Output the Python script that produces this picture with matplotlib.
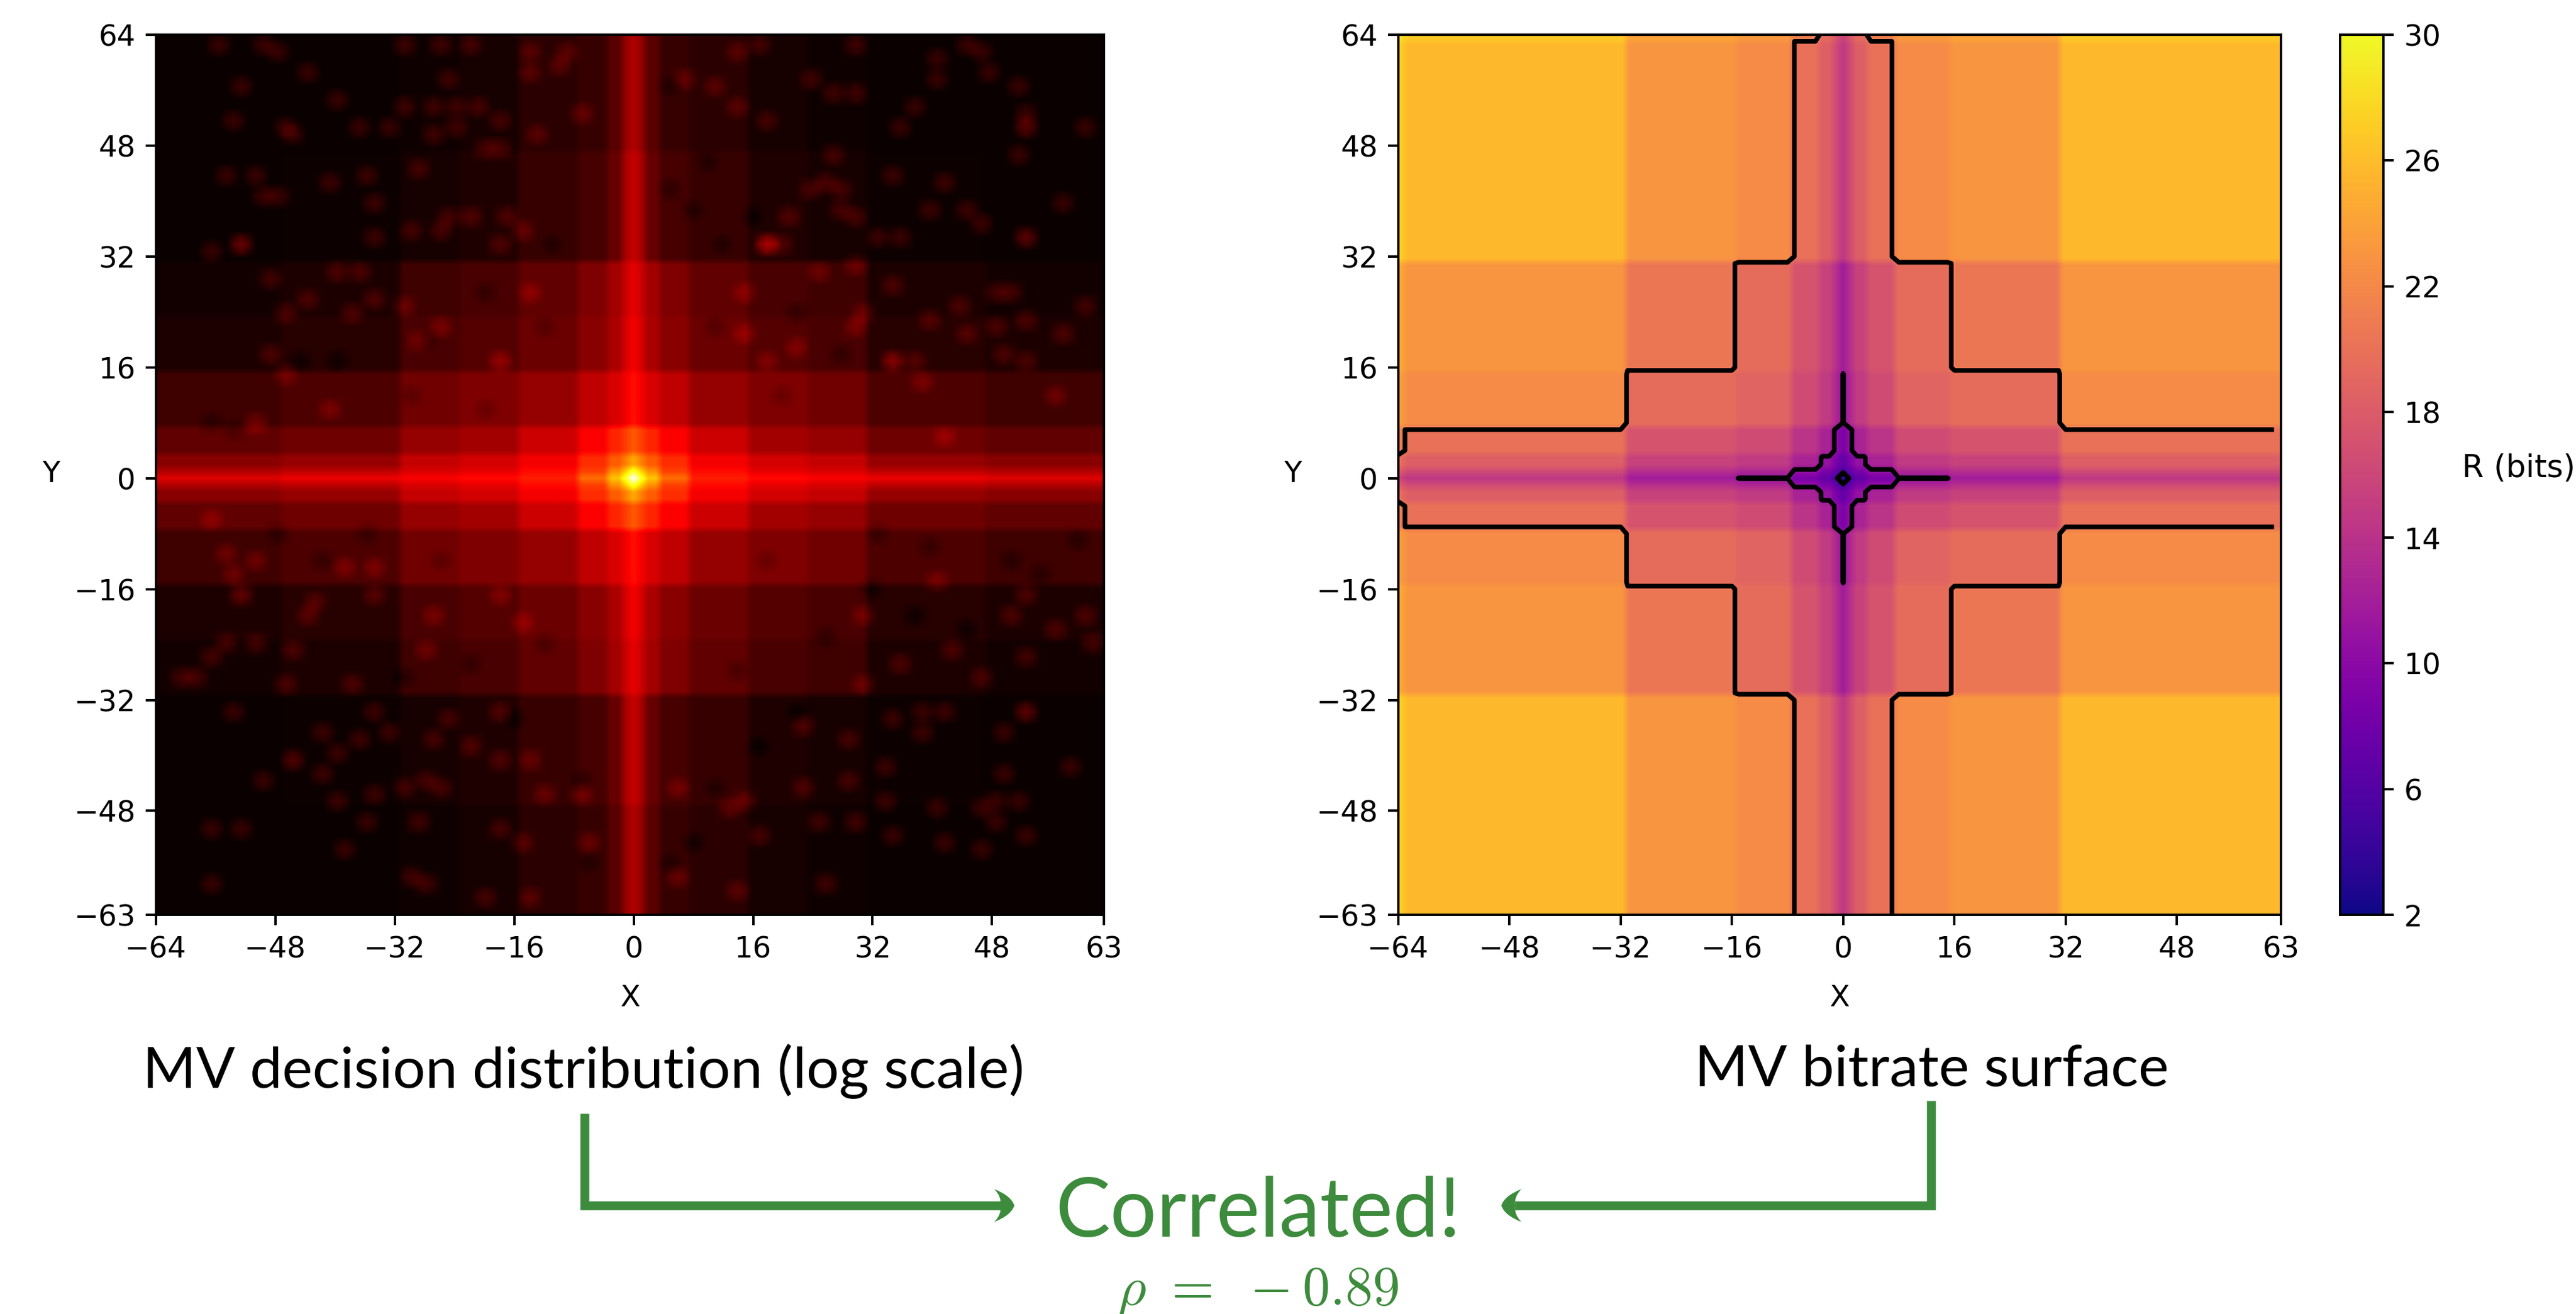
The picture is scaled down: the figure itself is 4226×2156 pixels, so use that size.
import numpy as np
import matplotlib
matplotlib.use("Agg")
import matplotlib.pyplot as plt
from matplotlib.lines import Line2D
from matplotlib.patches import PathPatch
from matplotlib.path import Path

W, H = 4226, 2156
GREEN = "#3d8b3d"

x_vals = np.arange(-64, 64)
y_vals = np.arange(64, -64, -1)
x_ticks = [-64, -48, -32, -16, 0, 16, 32, 48, 63]
y_ticks = [-63, -48, -32, -16, 0, 16, 32, 48, 64]
cbar_ticks = [2, 6, 10, 14, 18, 22, 26, 30]
contour_levels = [4.8, 11.1, 20.05]

# rate per |mv| band: 0, 1, 2-3, 4-7, 8-15, 16-31, 32-63, 64
rate_edges = [1, 2, 4, 8, 16, 32, 64]
rate_bits = [1.6, 3.5, 5.4, 7.1, 9.4, 10.2, 12.9, 14.0]

# log density per (|y| band, |x| band): 0, 1, 2-3, 4-7, 8-15, 16-23, 24-31, 32-47, 48-64
dist_edges = [1, 2, 4, 8, 16, 24, 32, 48]
dist_log = [
    [1.00, .80, .66, .53, .41, .38, .36, .34, .32],
    [.80, .68, .58, .46, .38, .33, .31, .27, .25],
    [.62, .56, .50, .43, .35, .30, .28, .21, .19],
    [.50, .46, .42, .36, .29, .23, .21, .15, .13],
    [.39, .35, .31, .27, .21, .175, .155, .10, .08],
    [.35, .31, .24, .19, .145, .11, .095, .045, .03],
    [.33, .29, .23, .175, .13, .095, .08, .03, .015],
    [.28, .24, .14, .09, .07, .035, .02, .005, 0],
    [.25, .21, .12, .07, .05, .02, .01, 0, 0],
]

# isolated bright spots
spots = [
    (-56, 63), (-50, 63), (-48, 62), (-31, 63), (-26, 63), (-22, 63), (-14, 62), (-9, 62), (-44, 59), (-25, 58),
    (-14, 59), (-10, 60), (-53, 57), (-40, 55), (-31, 54), (-27, 54), (-24, 54), (-21, 54), (-18, 52), (-13, 50),
    (-7, 53), (-54, 52), (-47, 51), (-46, 50), (-37, 51), (-33, 51), (-27, 50), (-24, 51), (-20, 48), (-18, 48),
    (-55, 44), (-51, 44), (-50, 41), (-48, 41), (-41, 43), (-36, 44), (-35, 40), (-29, 45), (-25, 38), (-22, 38),
    (-17, 38), (-15, 36), (-35, 35), (-30, 36), (-26, 36), (-18, 34), (-57, 33), (-40, 30), (-37, 30), (-49, 29),
    (-44, 26), (-47, 24), (-38, 24), (-35, 26), (-31, 25), (-49, 18), (-47, 15), (-41, 10), (-51, 8), (-14, 27),
    (-26, 22), (-29, 20),
    (14, 62), (17, 63), (30, 63), (45, 63), (47, 62), (41, 61), (41, 58), (48, 59), (52, 57), (24, 58),
    (27, 56), (30, 56), (11, 57), (7, 58), (38, 54), (18, 52), (14, 54), (36, 51), (61, 51), (53, 53),
    (27, 47), (52, 47), (35, 44), (42, 43), (24, 42), (26, 43), (28, 42), (58, 40), (28, 39), (21, 38),
    (30, 38), (45, 39), (40, 39), (47, 37), (20, 34), (36, 35), (33, 35), (30, 31), (25, 30), (15, 27),
    (49, 27), (51, 27), (61, 25), (44, 25), (35, 28), (40, 23), (31, 24), (30, 22), (15, 21), (45, 21),
    (49, 22), (53, 23), (58, 21), (53, 17), (50, 18), (38, 17), (18, 17), (22, 19), (39, 14), (57, 12), (42, 6),
    (-35, -17), (-57, -6), (-55, -11), (-51, -12), (-54, -14), (-39, -13), (-35, -13), (-43, -18), (-44, -20),
    (-51, -24), (-46, -25), (-55, -24), (-57, -26), (-61, -29), (-59, -29), (-47, -30), (-38, -30), (-54, -34),
    (-35, -34), (-18, -34), (-25, -35), (-27, -38), (-33, -37), (-37, -38), (-42, -37), (-40, -40), (-42, -43),
    (-50, -44), (-28, -44), (-31, -45), (-26, -45), (-40, -47), (-35, -46), (-22, -39), (-18, -41), (-14, -41),
    (-12, -46), (-7, -46), (-18, -51), (-15, -53), (-29, -50), (-36, -50), (-39, -54), (-57, -51), (-53, -51),
    (-57, -59), (-30, -58), (-28, -59), (-20, -61), (-14, -61), (-6, -53), (-15, -21), (-18, -17), (-27, -20), (-28, -25),
    (35, -35), (39, -34), (42, -34), (23, -36), (29, -38), (39, -37), (50, -37), (23, -45), (29, -44), (34, -42),
    (50, -43), (59, -42), (41, -48), (34, -47), (47, -48), (49, -47), (52, -47), (15, -47), (13, -48), (17, -52),
    (25, -50), (30, -50), (35, -52), (42, -53), (53, -52), (47, -54), (6, -45), (6, -58), (14, -60), (26, -59),
    (41, -15), (47, -29), (53, -17), (51, -20), (36, -27), (43, -25), (57, -22), (61, -20), (62, -24), (31, -20),
    (31, -30), (53, -26), (49, -50),
]
spot_strength = 0.07
strong_spots = [(18, 34), (35, 17), (53, 35), (53, 51), (-53, 34), (-18, 17), (53, -34), (-53, -17), (-46, -41)]
strong_strength = [0.2, 0.14, 0.12, 0.11, 0.14, 0.1, 0.12, 0.1, 0.1]
# dark holes in the mottled middle ring
dark_spots = [
    (-20, 27), (-28, 20), (-11, 34), (-40, 17), (-54, 7), (-57, 8), (-45, 17), (-30, 12), (-20, 10), (-12, 22),
    (32, -16), (45, -22), (51, -12), (33, -8), (11, -45), (8, -53), (5, -56), (17, -39), (40, -10), (55, -14),
    (5, 57), (16, 38), (8, 39), (5, 42), (10, 46), (12, 34), (22, 24), (28, 18), (11, 22), (20, 12),
    (-36, -8), (-48, -8), (-31, -29), (-6, -56), (-7, -44), (-16, -35), (-22, -27), (-12, -24), (-26, -12), (-42, -12),
    (22, -34), (14, -28), (26, -23), (18, -12), (60, -9), (38, -20),
]
dark_strength = -0.035
spot_shape = np.array([
    [.35, .7, .35],
    [.7, 1, .7],
    [.35, .7, .35],
])


def px(x, y):
    # reference pixels to figure fractions
    return x / W, 1 - y / H


def add_spot(grid, x, y, strength):
    row, col = 64 - y, x + 64
    for i in range(3):
        for j in range(3):
            r, c = row + i - 1, col + j - 1
            if 0 <= r < 128 and 0 <= c < 128:
                grid[r, c] += strength * spot_shape[i, j]


def style_axes(ax):
    ax.set_xticks(x_ticks)
    ax.set_yticks(y_ticks)
    ax.tick_params(labelsize=tick_size, length=12, width=2.8, pad=12)
    for s in ax.spines.values():
        s.set_linewidth(2.8)
    ax.set_xlabel("X", fontsize=tick_size)
    ax.set_ylabel("Y", fontsize=tick_size, rotation=0, ha="center", va="center")
    ax.set_aspect("auto")


tick_size = 34.5

rate = np.array(rate_bits)
rx = rate[np.searchsorted(rate_edges, np.abs(x_vals), side="right")]
ry = rate[np.searchsorted(rate_edges, np.abs(y_vals), side="right")]
surface = ry[:, None] + rx[None, :]

table = np.array(dist_log)
bx = np.searchsorted(dist_edges, np.abs(x_vals), side="right")
by = np.searchsorted(dist_edges, np.abs(y_vals), side="right")
dist = table[np.ix_(by, bx)]
for sx, sy in spots:
    add_spot(dist, sx, sy, spot_strength)
for (sx, sy), v in zip(strong_spots, strong_strength):
    add_spot(dist, sx, sy, v)
for sx, sy in dark_spots:
    add_spot(dist, sx, sy, dark_strength)

fig = plt.figure(figsize=(W / 100, H / 100), dpi=100)
extent = [-64, 63, -63, 64]

ax1 = fig.add_axes([256 / W, 1 - 1501 / H, 1555 / W, 1444 / H])
ax1.imshow(dist, cmap="hot", vmin=0, vmax=1, extent=extent, interpolation="bilinear")
style_axes(ax1)
ax1.xaxis.set_label_coords(0.5, -0.078)
ax1.yaxis.set_label_coords(-0.111, 0.501)

ax2 = fig.add_axes([2294 / W, 1 - 1501 / H, 1448 / W, 1444 / H])
im = ax2.imshow(surface, cmap="plasma", vmin=2, vmax=30, extent=extent, interpolation="bilinear")
# last column is left out, the lines stop short of the right edge
ax2.contour(x_vals[:-1], y_vals, surface[:, :-1], levels=contour_levels, colors="k", linewidths=5.5)
style_axes(ax2)
ax2.xaxis.set_label_coords(0.5, -0.078)
ax2.yaxis.set_label_coords(-0.12, 0.501)

cax = fig.add_axes([3839 / W, 1 - 1501 / H, 71 / W, 1444 / H])
cb = fig.colorbar(im, cax=cax, ticks=cbar_ticks)
cb.ax.tick_params(labelsize=tick_size, length=12, width=2.8, pad=12)
cb.outline.set_linewidth(2.8)
cb.set_label("R (bits)", fontsize=37, rotation=0, ha="center", va="center")
cax.yaxis.set_label_coords(4.12, 0.507)

# captions
tx, ty = px(957, 1785)
fig.text(tx, ty, "MV decision distribution (log scale)", family="Lato", fontsize=68, ha="center", va="baseline")
tx, ty = px(3169, 1782)
fig.text(tx, ty, "MV bitrate surface", family="Lato", fontsize=68, ha="center", va="baseline")
tx, ty = px(2064, 2029)
fig.text(tx, ty, "Correlated!", family="Lato", fontsize=97, color=GREEN, ha="center", va="baseline")
plt.rcParams["mathtext.fontset"] = "cm"
tx, ty = px(2064, 2140)
fig.text(tx, ty, r"$\rho\ =\ -0.89$", fontsize=65, color=GREEN, ha="center", va="baseline")

# elbow arrows, the head is a crescent on the end of the line
cy = 1978
for x0, y0, tip, d in [(959, 1827, 1664, 1), (3168, 1806, 2463, -1)]:
    xs, ys = zip(px(x0, y0), px(x0, cy), px(tip - d * 22, cy))
    fig.add_artist(Line2D(xs, ys, color=GREEN, lw=10.5, solid_joinstyle="miter", solid_capstyle="butt"))
    verts = [px(tip, cy), px(tip - d * 5, cy - 16), px(tip - d * 33, cy - 27),
             px(tip - d * 20, cy - 14), px(tip - d * 23, cy),
             px(tip - d * 20, cy + 14), px(tip - d * 33, cy + 27),
             px(tip - d * 5, cy + 16), px(tip, cy), px(tip, cy)]
    codes = [Path.MOVETO, Path.CURVE3, Path.CURVE3, Path.CURVE3, Path.CURVE3,
             Path.CURVE3, Path.CURVE3, Path.CURVE3, Path.CURVE3, Path.CLOSEPOLY]
    fig.add_artist(PathPatch(Path(verts, codes), fc=GREEN, ec=GREEN, lw=0, transform=fig.transFigure))

fig.savefig("out.png", dpi=100)
plt.close(fig)
